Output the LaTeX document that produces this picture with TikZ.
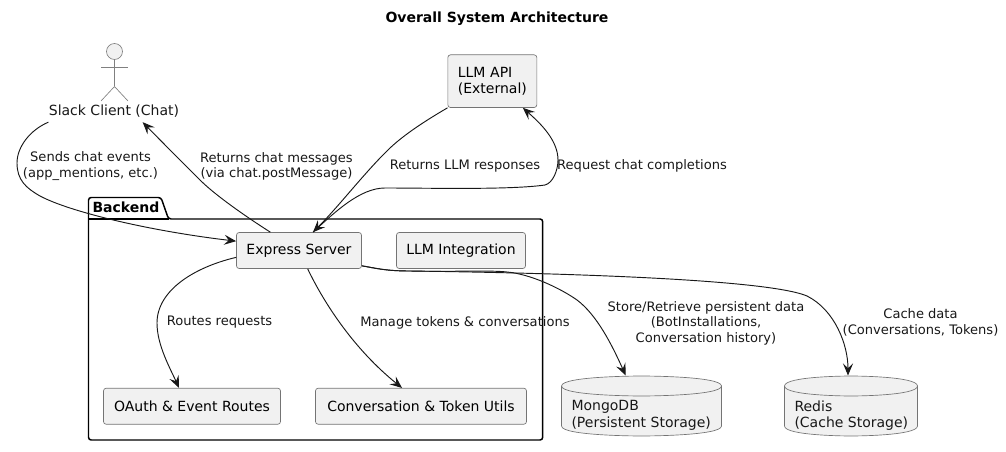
\documentclass[tikz,border=0pt]{standalone}
\usepackage{fontspec}
\setmainfont{DejaVu Sans}
\usetikzlibrary{arrows.meta}

\definecolor{boxfill}{RGB}{241,241,241}
\definecolor{boxline}{RGB}{24,24,24}

\tikzset{every picture/.style={line width=0.75pt}}
\tikzset{
	boxnode/.style={draw=boxline!60,fill=boxfill,rounded corners=2pt,line width=0.5pt,inner sep=0pt,font=\fontsize{10.5}{12}\selectfont},
	onebox/.style={boxnode,align=center,minimum height=27pt},
	twobox/.style={boxnode,align=left,anchor=north west,minimum height=39.5pt,minimum width=66.75pt,text width=51.75pt},
	edgelabel/.style={inner sep=0pt,align=center,text=boxline,font=\fontsize{9.8}{11.6}\selectfont},
	dblabel/.style={inner sep=0pt,align=left,anchor=west,text=boxline,font=\fontsize{10.5}{12.3}\selectfont},
	link/.style={draw=boxline,line width=0.7pt,-{Stealth[length=9pt,width=7.5pt,inset=3.5pt]}},
	dbshape/.style={draw=boxline!60,fill=boxfill,line width=0.5pt},
	actorline/.style={draw=boxline!55,line width=0.5pt}
}

\begin{document}
\begin{tikzpicture}[x=0.75pt,y=0.75pt,yscale=-1,xscale=1]
	\useasboundingbox (0,0) rectangle (1006,452);

	% Title
	\node (title) at (497,19) [inner sep=0pt,font=\fontsize{10.5}{12}\selectfont\bfseries] {Overall System Architecture};

	% Package
	\draw [line width=1.1pt,rounded corners=2pt,fill=white] (88.5,219) -- (88.5,197.5) -- (161,197.5) -- (168.5,219) -- (542.7,219) -- (542.7,440) -- (88.5,440) -- cycle;
	\draw [line width=1.1pt] (88.5,219) -- (168.5,219);
	\node (backend) at (92,207.5) [anchor=west,inner sep=0pt,font=\fontsize{10.5}{12}\selectfont\bfseries] {Backend};

	% Actor
	\draw [actorline,fill=boxfill] (114.5,51.5) circle [radius=8];
	\draw [actorline] (114.5,59.5) -- (114.5,86.5);
	\draw [actorline] (101,67) -- (128,67);
	\draw [actorline] (101,101) -- (114.5,86.5) -- (128,101);
	\node (slack) at (114,111) [inner sep=0pt,text=boxline,minimum height=16pt,font=\fontsize{10.5}{12}\selectfont] {Slack Client (Chat)};

	% Boxes
	\node (llmapi) at (447.5,54.5) [twobox] {LLM API\\(External)};
	\node (express) at (299,250.5) [onebox,minimum width=93.75pt] {Express Server};
	\node (llmint) at (461,250.5) [onebox,minimum width=96.75pt] {LLM Integration};
	\node (oauth) at (192,406.25) [onebox,minimum width=132.75pt] {OAuth \& Event Routes};
	\node (convo) at (421,406.25) [onebox,minimum width=158.25pt] {Conversation \& Token Utils};

	% Databases
	\draw [dbshape] (561.5,386) .. controls (561.5,376) and (641.5,376) .. (641.5,376) .. controls (641.5,376) and (721.5,376) .. (721.5,386) -- (721.5,426) .. controls (721.5,436) and (641.5,436) .. (641.5,436) .. controls (641.5,436) and (561.5,436) .. (561.5,426) -- cycle;
	\draw [dbshape,fill=none] (561.5,386) .. controls (561.5,396) and (641.5,396) .. (641.5,396) .. controls (641.5,396) and (721.5,396) .. (721.5,386);
	\node (mongo) at (571,415.5) [dblabel] {MongoDB\\(Persistent Storage)};
	\draw [dbshape] (784.5,386) .. controls (784.5,376) and (851,376) .. (851,376) .. controls (851,376) and (917.5,376) .. (917.5,386) -- (917.5,426) .. controls (917.5,436) and (851,436) .. (851,436) .. controls (851,436) and (784.5,436) .. (784.5,426) -- cycle;
	\draw [dbshape,fill=none] (784.5,386) .. controls (784.5,396) and (851,396) .. (851,396) .. controls (851,396) and (917.5,396) .. (917.5,386);
	\node (redis) at (794,415.5) [dblabel] {Redis\\(Cache Storage)};

	% Connector ends
	\coordinate (slackOut) at (slack.south west);
	\coordinate (slackIn) at ([xshift=21.5pt]slack.south);
	\coordinate (expressWest) at ([yshift=-7pt]express.west);
	\coordinate (expressLow) at ([yshift=-8.6pt]express.south west);
	\coordinate (expressNorth) at ([xshift=10.5pt]express.north);
	\coordinate (expressChat) at ([xshift=-21.5pt]express.north);
	\coordinate (expressSouth) at ([xshift=6.5pt]express.south);
	\coordinate (expressEast) at ([yshift=-2.25pt]express.south east);
	\coordinate (apiOut) at (llmapi.south west);
	\coordinate (apiIn) at ([xshift=56.5pt]llmapi.south west);
	\coordinate (oauthTop) at ([xshift=-9.75pt]oauth.north);
	\coordinate (convoTop) at ([xshift=-14.25pt]convo.north);
	\coordinate (mongoTop) at (625.7,375.5);
	\coordinate (redisTop) at (848,375.5);

	% Connectors
	\draw [link] (slackOut) .. controls (30,130) and (17,147) .. (17,163) .. controls (17,180) and (26,188) .. (40,196) .. controls (70,212) and (150,231) .. (expressWest);
	\draw [link] (expressChat) .. controls (245,216) and (215,195) .. (200,180) .. controls (180,160) and (160,140) .. (slackIn);
	\draw [link] (apiOut) .. controls (425,121) and (405,134) .. (390,148) .. controls (365,172) and (340,205) .. (expressNorth);
	\draw [link] (expressNorth) .. controls (335,212) and (360,188) .. (385,188) .. controls (430,188) and (510,190) .. (545,185) .. controls (553,183) and (558,170) .. (558,160) .. controls (558,140) and (540,123) .. (apiIn);
	\draw [link] (expressLow) .. controls (195,267) and (157,290) .. (157,323) .. controls (157,345) and (170,368) .. (oauthTop);
	\draw [link] (expressSouth) .. controls (325,305) and (355,350) .. (convoTop);
	\draw [link] (expressEast) .. controls (375,268) and (385,271) .. (410,271) .. controls (450,272) and (490,270) .. (507,272) .. controls (530,274) and (560,288) .. (577,300) .. controls (597,315) and (612,345) .. (mongoTop);
	\draw [link] (expressEast) .. controls (375,268) and (385,271) .. (410,271) .. controls (480,272) and (760,276) .. (807,296) .. controls (835,310) and (848,345) .. (redisTop);

	% Text Node
	\node (sendslabel) at (90.5,166) [edgelabel] {Sends chat events\\(app\_mentions, etc.)};
	\node (chatlabel) at (276.5,166.5) [edgelabel] {Returns chat messages\\(via chat.postMessage)};
	\node (resplabel) at (465,166) [edgelabel] {Returns LLM responses};
	\node (reqlabel) at (642,166) [edgelabel] {Request chat completions};
	\node (routeslabel) at (219.5,322.5) [edgelabel] {Routes requests};
	\node (managelabel) at (465,322.5) [edgelabel] {Manage tokens \& conversations};
	\node (storelabel) at (706,323) [edgelabel] {Store/Retrieve persistent data\\(BotInstallations,\\Conversation history)};
	\node (cachelabel) at (920.5,322.5) [edgelabel] {Cache data\\(Conversations, Tokens)};
\end{tikzpicture}
\end{document}
